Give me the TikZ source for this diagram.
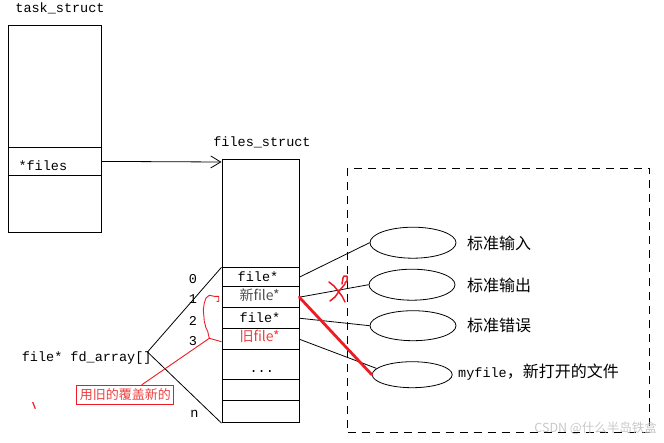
\documentclass[tikz,border=0pt]{standalone}
\usepackage{fontspec}
\usetikzlibrary{shapes.geometric,arrows.meta,calc}
\newfontfamily\monof{Liberation Mono}
\newfontfamily\cjkf{Noto Sans CJK SC}
\definecolor{pred}{RGB}{237,28,36}
\definecolor{lred}{RGB}{236,64,64}
\definecolor{dgray}{RGB}{80,80,80}
\definecolor{wm}{RGB}{200,200,200}
\tikzset{
  ln/.style={line width=0.8pt},
  tcell/.style={draw,ln,rectangle,inner sep=0pt,anchor=north west,minimum width=93pt},
  fcell/.style={draw,ln,rectangle,inner sep=0pt,anchor=north west,minimum width=77pt},
  ell/.style={draw,ln,ellipse,inner sep=0pt},
  mono/.style={inner sep=0pt,font=\monof\fontsize{13.5}{13.5}\selectfont},
  cjkrow/.style={inner sep=0pt,font=\cjkf\fontsize{14}{14}\selectfont},
  cjklab/.style={inner sep=0pt,font=\cjkf\fontsize{16}{16}\selectfont,anchor=base west},
  redln/.style={draw=pred,line width=0.9pt},
  redx/.style={draw=pred,line width=1.5pt,line cap=round,line join=round},
}
\begin{document}
\begin{tikzpicture}[x=1pt,y=-1pt]
\useasboundingbox (0,0) rectangle (664,442);
% task_struct
\node[mono,anchor=base] (lTask) at (60,12.5) {task\_struct};
\node[tcell,minimum height=122pt] (tTop) at (8,25) {};
\node[tcell,minimum height=28pt] (tFiles) at (8,147) {};
\node[tcell,minimum height=57pt] (tBot) at (8,175) {};
\node[mono,anchor=base west] (tFilesTxt) at (18.3,170) {*files};
% files_struct
\node[mono,anchor=base] (lFiles) at (262,146) {files\_struct};
\node[fcell,minimum height=108pt] (fTop) at (221.5,159.3) {};
\node[fcell,minimum height=19pt] (r0) at (221.5,267.3) {};
\node[fcell,minimum height=21pt] (r1) at (221.5,286.3) {};
\node[fcell,minimum height=21pt] (r2) at (221.5,307.3) {};
\node[fcell,minimum height=21pt] (r3) at (221.5,328.3) {};
\node[fcell,minimum height=30pt] (r4) at (221.5,349.3) {};
\node[fcell,minimum height=21pt] (r5) at (221.5,379.3) {};
\node[fcell,minimum height=22pt] (r6) at (221.5,400.3) {};
\node[mono,anchor=base] (t0) at (258,281.7) {file*};
\node[cjkrow,text=dgray,anchor=base] (t1) at (259.6,300.7) {新file*};
\node[mono,anchor=base] (t2) at (260,322.3) {file*};
\node[cjkrow,text=lred,anchor=base] (t3) at (259.6,341) {旧file*};
\node[mono,anchor=base] (t4) at (261.7,372.5) {...};
% indices
\node[mono,anchor=base] (n0) at (193,283.3) {0};
\node[mono,anchor=base] (n1) at (193,303.3) {1};
\node[mono,anchor=base] (n2) at (193,325) {2};
\node[mono,anchor=base] (n3) at (193,345) {3};
\node[mono,anchor=base] (nn) at (194.5,417.3) {n};
% fd_array
\node[mono,anchor=base west] (fd) at (21.7,361.7) {file* fd\_array[]};
\coordinate (fdtip) at (147.5,352);
\draw[ln] (fdtip) -- (r0.north west);
\draw[ln] (fdtip) -- (r6.south west);
% arrow task -> files
\coordinate (fIn) at (221.5,162);
\draw[ln,-{Straight Barb[length=10pt,width=12pt]}] (tFiles.east) -- (fIn);
% dashed region
\node[draw,ln,dash pattern=on 8pt off 6pt,anchor=north west,minimum width=302pt,minimum height=264pt,inner sep=0pt] (dbox) at (347.3,167.7) {};
% ellipses
\node[ell,minimum width=86pt,minimum height=31pt] (e1) at (413,242.7) {};
\node[ell,minimum width=86pt,minimum height=31pt] (e2) at (412,284.7) {};
\node[ell,minimum width=86pt,minimum height=30pt] (e3) at (413,325.7) {};
\node[ell,minimum width=80pt,minimum height=26pt] (e4) at (412.2,374.7) {};
\node[cjklab] (s1) at (467,249.7) {标准输入};
\node[cjklab] (s2) at (467,291) {标准输出};
\node[cjklab] (s3) at (467,331) {标准错误};
\node[inner sep=0pt,anchor=base west] (s4) at (458,377.5) {{\monof\fontsize{13.5}{13.5}\selectfont myfile}{\cjkf\fontsize{16}{16}\selectfont ，新打开的文件}};
% connectors
\draw[ln] (r0.east) -- (e1.west);
\draw[ln] (r1.east) -- (e2.west);
\draw[ln] (r2.east) -- (e3.west);
\draw[ln] (r3.east) -- (e4.170);
\draw[pred,line width=2.8pt,line cap=round] (r1.east) -- (e4.west);
% red X scribble
\draw[redx] (329,282) -- (334,286) -- (338,291) -- (342,296) -- (345,302);
\draw[redx] (330,301) -- (335,297) -- (340,290) -- (345,284);
\draw[redx] (342,284) -- (343,278) -- (344,276) -- (347,276) -- (347,281) -- (345,283);
% red label and brace
\node[draw=pred,line width=0.9pt,text=lred,minimum width=97pt,minimum height=19pt,inner sep=0pt,font=\cjkf\fontsize{13}{13}\selectfont] (lbl) at (125.3,394.8) {用旧的覆盖新的};
\coordinate (bj) at (209.3,338.3);
\draw[redln] ($(lbl.north)+(16.4,0)$) -- (bj);
\draw[redln,line join=round] ($(r3.west)+(0,2.5)$) -- (bj) -- (207.7,331.3) -- (206,328) -- (204.3,321.3) -- (203.3,309.7) -- (204.3,303) -- (206,298) -- (209.3,295.3) -- (214.3,296.3) -- (218.7,296.3) -- (218.7,301.3) -- (216.7,301.3);
\draw[pred,line width=1.2pt] (32.7,402) -- (35.3,408.7);
% watermark
\node[text=wm,anchor=east,inner sep=0pt,font=\cjkf\fontsize{12.5}{12.5}\selectfont] (wmk) at (657,428) {CSDN @什么半岛铁盒};
\end{tikzpicture}
\end{document}
